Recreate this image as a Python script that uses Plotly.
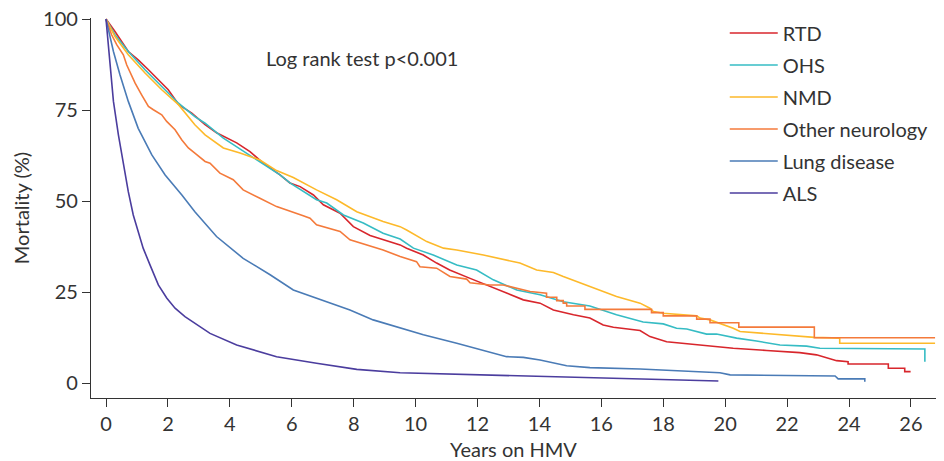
import plotly.graph_objects as go

# ---- data (years on HMV, mortality %) ----
rtd_x = [0, 0.29, 0.72, 1.04, 1.37, 1.69, 2.01, 2.34, 2.77, 3.2, 3.57, 4.22, 4.65, 5.07, 5.62, 5.94, 6.27, 6.7, 7.02, 7.56, 7.99, 8.53, 9.07, 9.5, 9.71, 10.25, 10.68, 11.1, 11.76, 12.3, 12.94, 13.48, 14.02, 14.45, 15.1, 15.63, 16.06, 16.39, 17.25, 17.57, 18.11, 19.19, 20.26, 21.34, 22.41, 22.95, 23.6, 23.97, 23.97, 25.27, 25.27, 25.8, 25.8, 25.99]
rtd_y = [100, 96.6, 91.1, 88.8, 86.1, 83.3, 80.6, 76.6, 74.2, 71, 68.8, 66, 63.6, 60.5, 57.2, 55, 54, 51.7, 49, 46.7, 43, 40.6, 39.2, 38, 37.1, 35.2, 33, 31.1, 28.8, 27, 24.7, 22.9, 22, 20.1, 18.8, 17.9, 16, 15.4, 14.5, 12.8, 11.4, 10.5, 9.6, 9, 8.4, 7.8, 6.2, 5.9, 5.3, 5.3, 4.1, 4.1, 3.2, 3.2]

ohs_x = [0, 0.29, 0.72, 1.26, 1.8, 2.34, 2.87, 3.2, 3.79, 4.65, 5.62, 5.94, 6.8, 7.13, 7.67, 8.31, 8.95, 9.5, 9.93, 10.57, 11.33, 11.97, 12.51, 13.27, 14.02, 14.77, 15.63, 16.49, 17.35, 18.0, 18.43, 18.76, 19.4, 19.72, 20.37, 21.01, 21.77, 22.63, 23.06, 26.45, 26.45]
ohs_y = [100, 95.7, 91.1, 86.1, 81.5, 76.9, 73.2, 71.4, 67.3, 62.5, 57.2, 55, 50.4, 49.5, 46.2, 44, 41.2, 39.6, 37.1, 35.2, 32.5, 31.1, 28.4, 25.6, 24.3, 22.4, 21.2, 18.8, 16.8, 16.3, 15.1, 14.9, 13.5, 13.5, 12.4, 11.6, 10.5, 10.2, 9.6, 9.4, 5.9]

nmd_x = [0, 0.29, 0.72, 1.26, 1.8, 2.34, 2.87, 3.2, 3.79, 4.33, 4.97, 5.51, 6.05, 6.8, 7.45, 8.1, 8.95, 9.5, 9.71, 10.36, 10.9, 11.33, 12.19, 13.37, 13.91, 14.45, 14.77, 15.96, 16.49, 17.25, 17.57, 17.68, 18.0, 19.08, 19.19, 19.51, 19.83, 20.26, 20.48, 21.45, 22.88, 23.7, 23.7, 26.78]
nmd_y = [100, 95.2, 90.2, 85.2, 80.6, 76.5, 71, 68.2, 64.6, 63.2, 61.3, 58.4, 56.5, 53.1, 50.4, 47.1, 44.4, 43, 42.1, 38.9, 37.1, 36.6, 35.2, 33, 31.1, 30.4, 29.3, 25.6, 23.8, 22, 20.6, 19.7, 19.2, 18.5, 17.9, 17.4, 16.5, 15.1, 14.2, 13.5, 12.6, 12.4, 11, 11]

oth_x = [0, 0.18, 0.35, 0.56, 0.67, 0.94, 1.15, 1.37, 1.53, 1.8, 1.96, 2.23, 2.45, 2.66, 2.87, 3.2, 3.36, 3.68, 4.11, 4.43, 4.97, 5.51, 6.37, 6.59, 6.8, 7.56, 7.88, 8.42, 8.95, 9.5, 10.03, 10.14, 10.68, 11.11, 11.65, 11.76, 12.4, 12.83, 13.7, 14.23, 14.23, 14.56, 14.56, 14.77, 14.77, 14.88, 14.88, 15.47, 15.47, 17.62, 17.62, 18.0, 18.0, 19.08, 19.08, 19.51, 19.51, 20.44, 20.44, 22.88, 22.88, 26.78]
oth_y = [100, 95.7, 92.9, 90.2, 87.4, 82.4, 79.2, 76, 75.1, 73.7, 71.9, 69.6, 66.8, 64.6, 63.2, 60.9, 60.4, 57.7, 55.9, 53.1, 50.8, 48.5, 46, 45.3, 43.5, 41.7, 39.4, 38, 36.6, 34.8, 33.4, 32, 31.6, 29.3, 28.6, 27.6, 27, 27, 25.2, 24.7, 23.6, 23.6, 22.7, 22.7, 22, 22, 21.2, 21.2, 20.3, 20.3, 19.4, 19.4, 18.5, 18.5, 17.6, 17.6, 16.6, 16.6, 15.4, 15.4, 12.5, 12.5]

lung_x = [0, 0.24, 0.45, 0.72, 1.04, 1.48, 1.91, 2.45, 2.87, 3.57, 4.43, 5.3, 6.05, 6.8, 7.88, 8.63, 9.17, 10.25, 11.33, 12.19, 12.94, 13.48, 14.02, 14.88, 15.63, 17.25, 19.83, 20.16, 23.55, 23.65, 24.51, 24.51]
lung_y = [100, 91.1, 84.7, 77.4, 70, 62.7, 57.2, 51.7, 47.1, 40.3, 34.3, 29.8, 25.6, 23.4, 20.1, 17.4, 16, 13.3, 11, 9.1, 7.3, 7.1, 6.4, 4.8, 4.3, 3.9, 2.9, 2.3, 2.0, 1.2, 1.2, 0.4]

als_x = [0, 0.13, 0.24, 0.4, 0.56, 0.72, 0.88, 1.04, 1.2, 1.42, 1.69, 1.96, 2.23, 2.55, 2.87, 3.36, 4.22, 5.51, 6.8, 8.1, 9.5, 12.0, 15.0, 17.25, 19.78]
als_y = [100, 87.4, 77.4, 68.2, 60, 52.6, 46.2, 41.6, 37.1, 32.5, 27, 23.4, 20.6, 18.3, 16.5, 13.7, 10.5, 7.3, 5.5, 3.8, 2.9, 2.3, 1.6, 1.2, 0.6]

series = [
    ("RTD", rtd_x, rtd_y, "#d8262c"),
    ("OHS", ohs_x, ohs_y, "#36bcc4"),
    ("NMD", nmd_x, nmd_y, "#fdb92a"),
    ("Other neurology", oth_x, oth_y, "#f47a3b"),
    ("Lung disease", lung_x, lung_y, "#4a7bb6"),
    ("ALS", als_x, als_y, "#4b3d9e"),
]

x_ticks = list(range(0, 27, 2))
y_ticks = [0, 25, 50, 75, 100]

FONT = "Lato, 'Noto Sans', sans-serif"
TXT = "#333333"
FS = 20

fig = go.Figure()
for name, xs, ys, col in series:
    fig.add_trace(go.Scatter(x=xs, y=ys, mode="lines", name=name, legendgroup=name,
                             line=dict(color=col, width=1.6)))

fig.add_annotation(x=8.27, y=89.4, xref="x", yref="y", text="Log rank test p<0.001",
                   showarrow=False, font=dict(family=FONT, size=FS, color=TXT))

axis_common = dict(showline=True, linecolor="#333333", linewidth=1.3, ticks="outside",
                   ticklen=8, tickwidth=1.3, tickcolor="#333333", showgrid=False, zeroline=False,
                   automargin=False, tickfont=dict(family=FONT, size=FS, color=TXT))

fig.update_layout(
    width=944, height=461,
    margin=dict(l=91, r=8, t=18, b=63),
    plot_bgcolor="white", paper_bgcolor="white",
    font=dict(family=FONT, size=FS, color=TXT),
    xaxis=dict(range=[-0.485, 26.81], tickvals=x_ticks, title=dict(text="Years on HMV", standoff=15,
               font=dict(family=FONT, size=FS, color=TXT)), **axis_common),
    yaxis=dict(range=[-4.05, 100.3], tickvals=y_ticks, title=dict(text="Mortality (%)", standoff=8,
               font=dict(family=FONT, size=FS, color=TXT)), **axis_common),
    legend=dict(x=0.750, y=1.012, xanchor="left", yanchor="top", itemwidth=48,
                tracegroupgap=3, font=dict(family=FONT, size=FS, color=TXT),
                bgcolor="rgba(0,0,0,0)", borderwidth=0),
    showlegend=True,
)

fig.write_html("out.html")
